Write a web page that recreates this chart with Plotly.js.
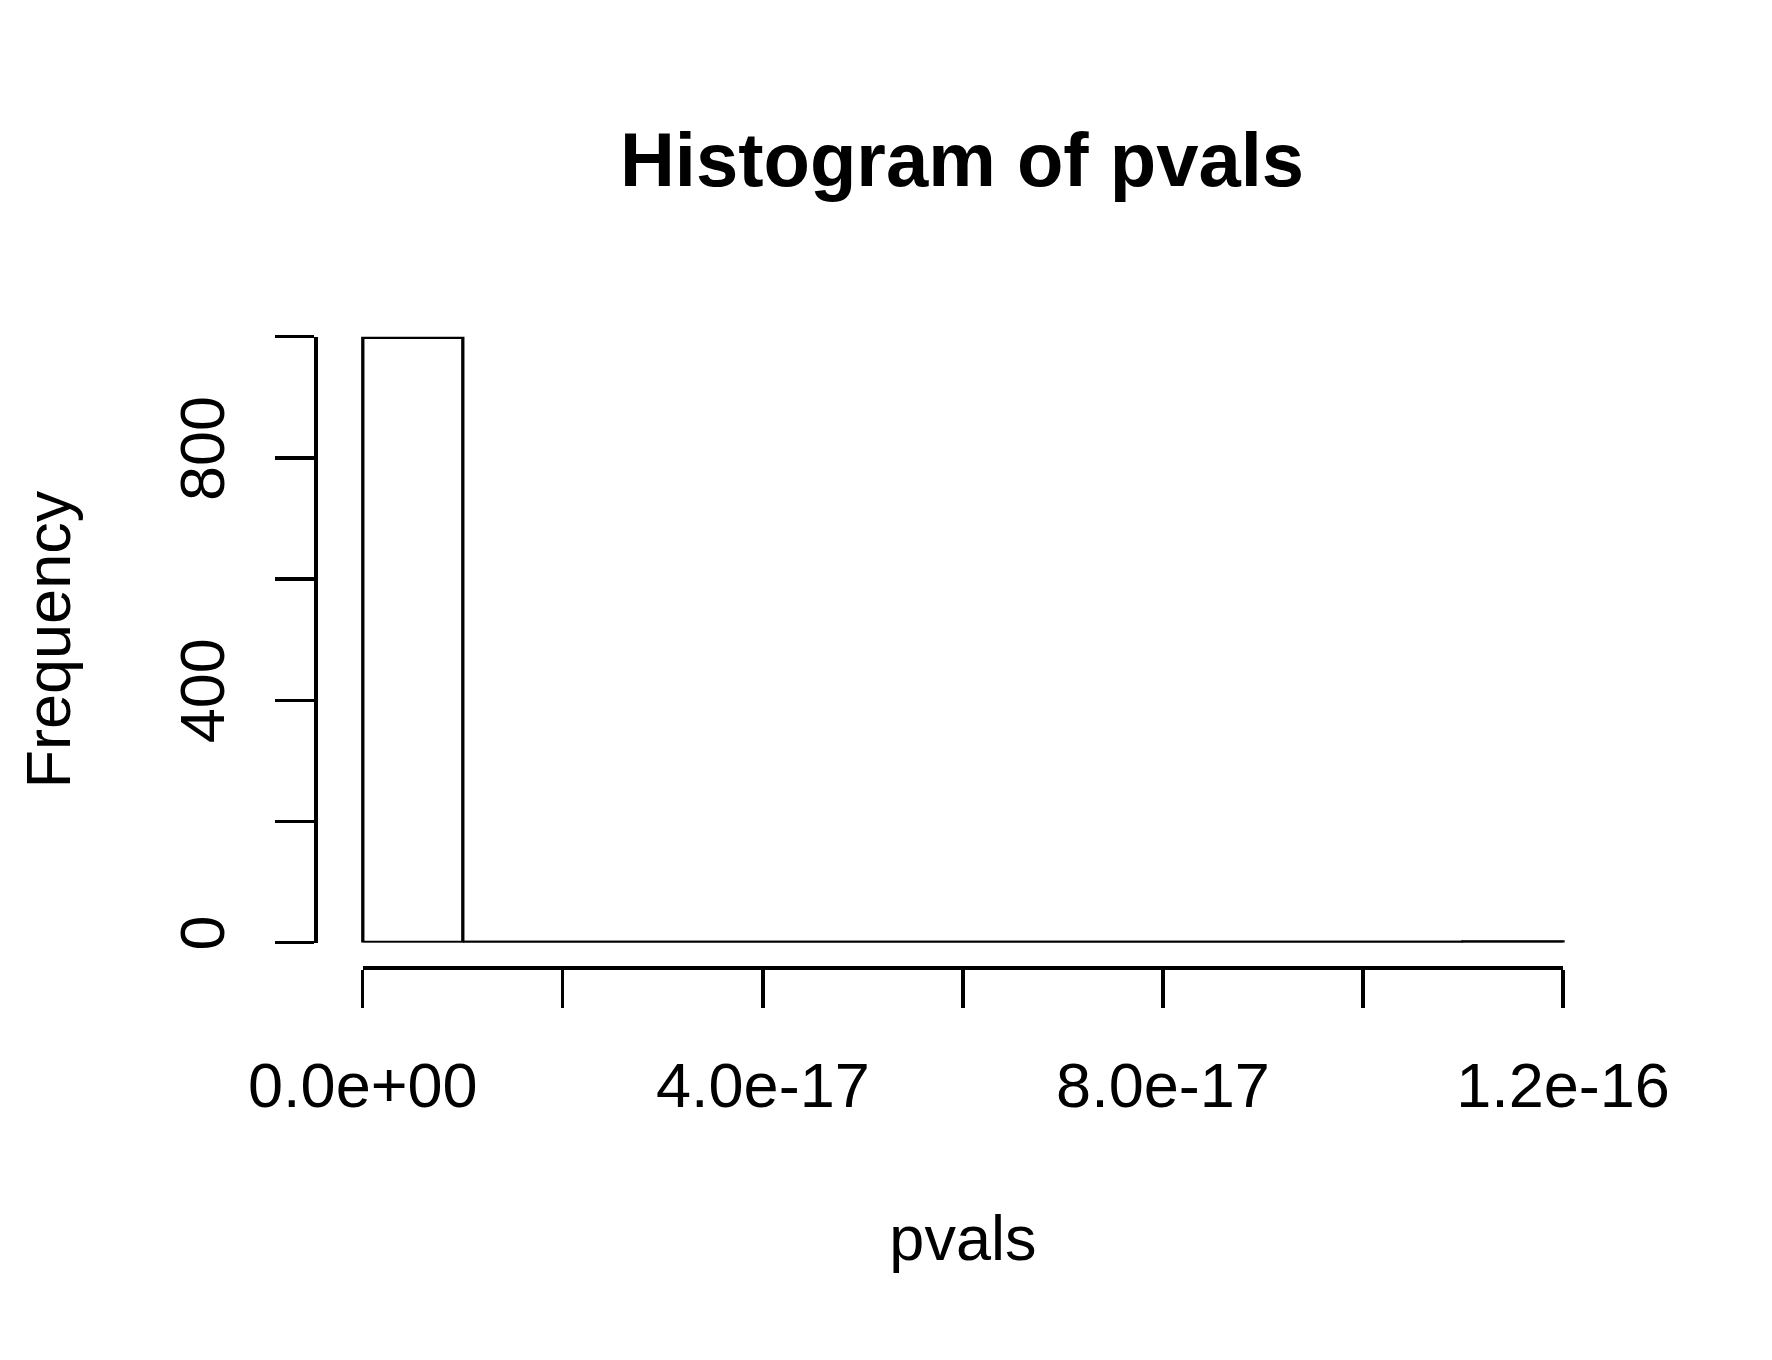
<!DOCTYPE html>
<html>
<head>
<meta charset="utf-8">
<script src="https://cdn.plot.ly/plotly-3.0.1.min.js"></script>
<style>html,body{margin:0;padding:0;background:#fff;}#chart{width:1772px;height:1360px;}</style>
</head>
<body>
<div id="chart"></div>
<script>
// Histogram data (bins of width 1e-17)
const binStart = 0;
const binWidth = 1e-17;
const counts = [999, 0, 0, 0, 0, 0, 0, 0, 0, 0, 0, 1];
const xTickVals = [0, 2e-17, 4e-17, 6e-17, 8e-17, 1e-16, 1.2e-16];
const xTickText = ["0.0e+00", "", "4.0e-17", "", "8.0e-17", "", "1.2e-16"];
const yTickVals = [0, 200, 400, 600, 800, 1000];
const yTickText = ["0", "", "400", "", "800", ""];

const binCenters = counts.map((_, i) => binStart + binWidth * (i + 0.5));
const binEdges = counts.map((_, i) => binStart + binWidth * i).concat([binStart + binWidth * counts.length]);

const W = 1772, H = 1360;
const FONT = "Liberation Sans, Arial, Helvetica, sans-serif";
const LW = 3.3;

const xMin = binEdges[0], xMax = binEdges[binEdges.length - 1];
const yMax = 1000;
const ext = 0.04 * (xMax - xMin);

// pixel layout
const x0px = 362.8, x1px = 1563;               // data 0 .. 1.2e-16
const pxPerUnit = (x1px - x0px) / (xMax - xMin);
const bx0 = x0px - ext * pxPerUnit, bx1 = x1px + ext * pxPerUnit;
const yTopPx = 336.8, yBotPx = 942.5;
const xAxisPx = 967.4;
const yAxisPx = 315.3;

const traces = [
  {
    type: "bar",
    x: binCenters,
    y: counts,
    width: counts.map(() => binWidth),
    xaxis: "x2",
    yaxis: "y",
    marker: { color: "#ffffff", line: { color: "#000000", width: LW } },
    cliponaxis: false,
    hoverinfo: "skip",
    showlegend: false
  },
  {
    type: "scatter",
    mode: "lines",
    x: [xMin, xMax],
    y: [0, 0],
    xaxis: "x",
    yaxis: "y",
    line: { color: "#000000", width: LW },
    cliponaxis: false,
    hoverinfo: "skip",
    showlegend: false
  }
];

const layout = {
  width: W,
  height: H,
  margin: { l: 0, r: 0, t: 0, b: 0, autoexpand: false },
  paper_bgcolor: "#ffffff",
  plot_bgcolor: "rgba(0,0,0,0)",
  font: { family: FONT, size: 63, color: "#000000" },
  showlegend: false,
  title: {
    text: "<b>Histogram of pvals</b>",
    font: { family: FONT, size: 76, color: "#000000" },
    x: 962 / W,
    xref: "paper",
    xanchor: "center",
    y: 1 - 159 / H,
    yref: "paper",
    yanchor: "middle"
  },
  xaxis: {
    domain: [x0px / W, x1px / W],
    range: [xMin, xMax],
    anchor: "free",
    position: 1 - xAxisPx / H,
    showline: true,
    linecolor: "#000000",
    linewidth: LW,
    ticks: "outside",
    ticklen: 38.5,
    tickwidth: LW,
    tickcolor: "#000000",
    tickmode: "array",
    tickvals: xTickVals,
    ticktext: xTickText,
    ticklabelstandoff: 23,
    tickfont: { family: FONT, size: 63, color: "#000000" },
    showgrid: false,
    zeroline: false,
    title: { text: "pvals", font: { family: FONT, size: 63, color: "#000000" }, standoff: 97 }
  },
  xaxis2: {
    domain: [bx0 / W, bx1 / W],
    range: [xMin - ext, xMax + ext],
    anchor: "y",
    visible: false,
    showgrid: false,
    zeroline: false
  },
  yaxis: {
    domain: [1 - yBotPx / H, 1 - yTopPx / H],
    range: [0, yMax],
    anchor: "free",
    position: yAxisPx / W,
    showline: true,
    linecolor: "#000000",
    linewidth: LW,
    ticks: "outside",
    ticklen: 39.6,
    tickwidth: LW,
    tickcolor: "#000000",
    tickmode: "array",
    tickvals: yTickVals,
    ticktext: yTickText,
    tickangle: -90,
    ticklabelstandoff: 26,
    tickfont: { family: FONT, size: 63, color: "#000000" },
    showgrid: false,
    zeroline: false,
    title: { text: "Frequency", font: { family: FONT, size: 63, color: "#000000" }, standoff: 74 }
  }
};

Plotly.newPlot("chart", traces, layout, { displayModeBar: false, staticPlot: true });
</script>
</body>
</html>
